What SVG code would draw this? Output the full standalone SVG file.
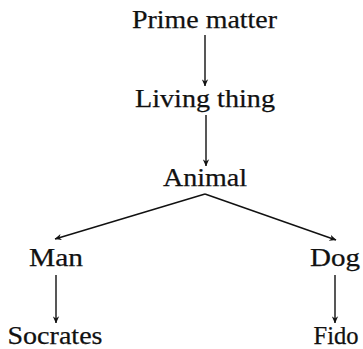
<svg xmlns="http://www.w3.org/2000/svg" width="363" height="349" viewBox="0 0 363 349">
<style>
.t{font-family:"Liberation Serif","Times New Roman",serif;font-size:26px;fill:#111;stroke:#111;stroke-width:0.25;text-anchor:middle}
.c{stroke:#111;stroke-width:1.4;fill:none;marker-end:url(#ah)}
</style>
<defs>
<marker id="ah" viewBox="0 0 10 10" refX="9.5" refY="5" markerWidth="7" markerHeight="7" markerUnits="userSpaceOnUse" orient="auto">
<path d="M0,0.5 L10,5 L0,9.5 L3,5 Z" fill="#111"/>
</marker>
</defs>
<rect width="363" height="349" fill="#fff"/>
<g id="connectors">
<line class="c" x1="205" y1="35" x2="205" y2="86"/>
<line class="c" x1="206" y1="115" x2="206" y2="166"/>
<line class="c" x1="205" y1="194" x2="55" y2="239"/>
<line class="c" x1="205" y1="194" x2="336" y2="240"/>
<line class="c" x1="56" y1="275" x2="56" y2="323"/>
<line class="c" x1="335" y1="275" x2="335" y2="323"/>
</g>
<g id="prime"><text class="t" x="204.5" y="28" textLength="145" lengthAdjust="spacingAndGlyphs">Prime matter</text></g>
<g id="living"><text class="t" x="205" y="107" textLength="140" lengthAdjust="spacingAndGlyphs">Living thing</text></g>
<g id="animal"><text class="t" x="205" y="186" textLength="84" lengthAdjust="spacingAndGlyphs">Animal</text></g>
<g id="man"><text class="t" x="56" y="266" textLength="54" lengthAdjust="spacingAndGlyphs">Man</text></g>
<g id="dog"><text class="t" x="335" y="266" textLength="50" lengthAdjust="spacingAndGlyphs">Dog</text></g>
<g id="socrates"><text class="t" x="55" y="344" textLength="95" lengthAdjust="spacingAndGlyphs">Socrates</text></g>
<g id="fido"><text class="t" x="336" y="344" textLength="45" lengthAdjust="spacingAndGlyphs">Fido</text></g>
</svg>
